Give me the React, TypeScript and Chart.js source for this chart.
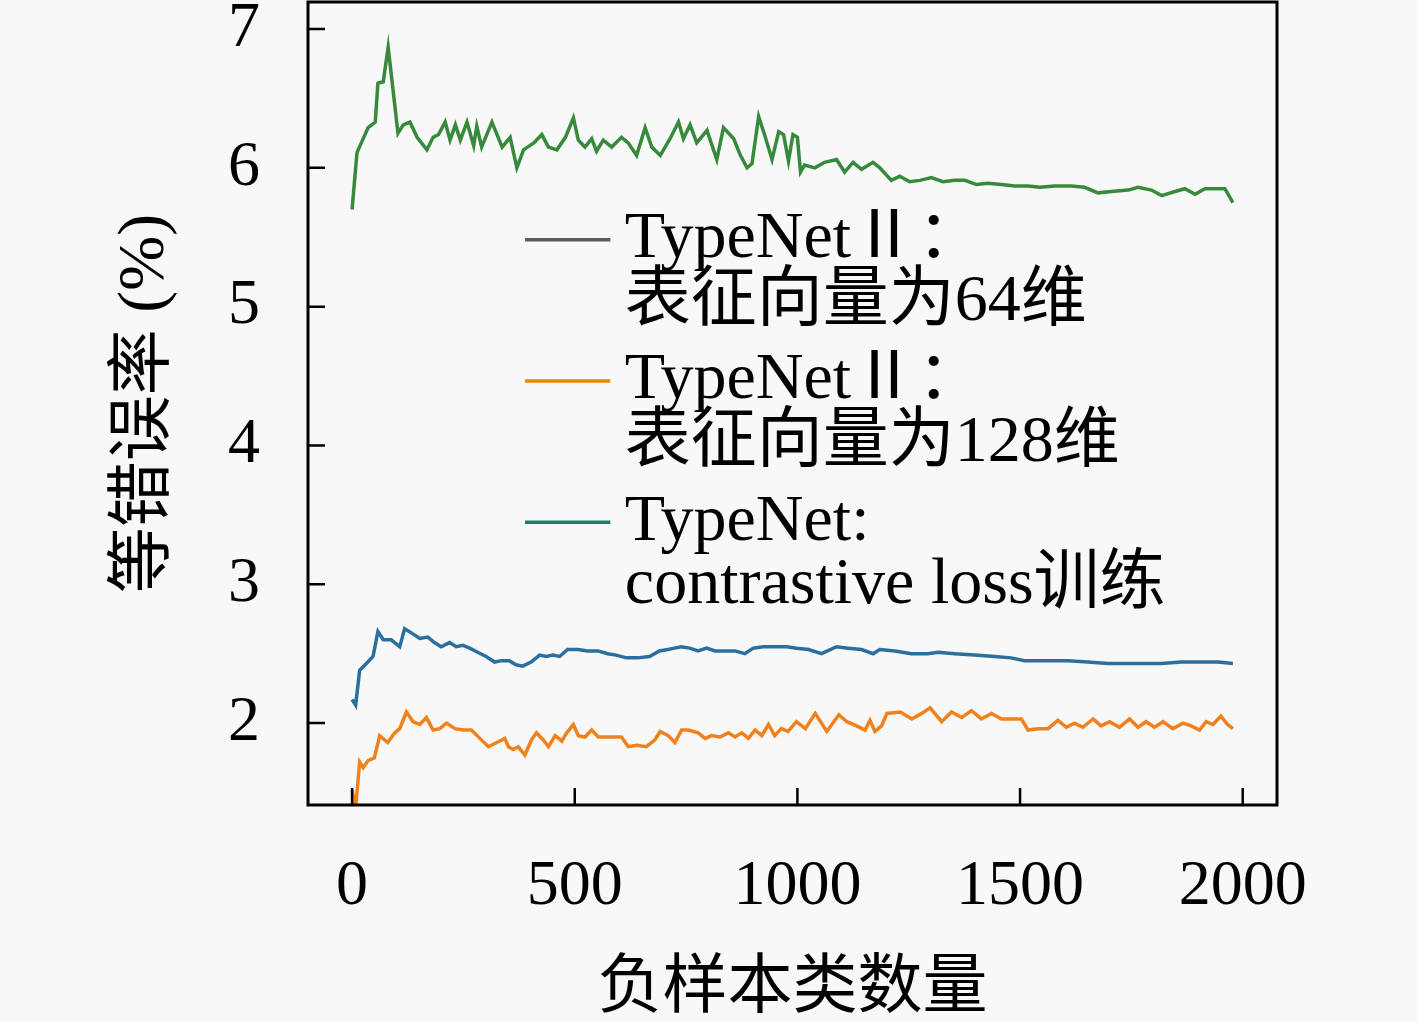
import React, { useEffect, useRef } from 'react';
import { Chart, registerables } from 'chart.js';

Chart.register(...registerables);

const W = 1417;
const H = 1022;
const FONT = "'Liberation Serif', 'Noto Sans CJK SC', serif";
const BG = '#f8f8f8';

const xTicks = [0, 500, 1000, 1500, 2000];
const yTicks = [2, 3, 4, 5, 6, 7];
const xTitle = '负样本类数量';
const yTitle = '等错误率 (%)';

const legendText = [
  ['TypeNetⅡ：', '表征向量为64维'],
  ['TypeNetⅡ：', '表征向量为128维'],
  ['TypeNet:', 'contrastive loss训练'],
];
const legendColors = ['#5c5c5c', '#e8870e', '#17806a'];

const greenX = [0, 11, 36, 52, 58, 70, 81, 92, 103, 115, 130, 146, 168, 182, 194, 209, 220, 232, 243, 258, 273, 280, 291, 314, 337, 355, 370, 385, 408, 426, 441, 460, 479, 497, 508, 523, 538, 549, 564, 583, 605, 620, 639, 658, 673, 692, 714, 733, 744, 759, 774, 797, 819, 834, 857, 872, 887, 898, 913, 928, 943, 958, 969, 980, 990, 1000, 1007, 1016, 1039, 1061, 1088, 1106, 1125, 1144, 1170, 1185, 1211, 1230, 1252, 1275, 1301, 1327, 1353, 1376, 1402, 1428, 1458, 1488, 1518, 1544, 1578, 1615, 1645, 1675, 1705, 1743, 1765, 1795, 1818, 1848, 1870, 1893, 1915, 1938, 1960, 1978];
const greenY = [5.70, 6.11, 6.29, 6.33, 6.61, 6.62, 6.87, 6.56, 6.25, 6.31, 6.33, 6.22, 6.13, 6.22, 6.24, 6.33, 6.20, 6.31, 6.20, 6.33, 6.16, 6.30, 6.15, 6.33, 6.15, 6.22, 6.00, 6.13, 6.18, 6.24, 6.15, 6.13, 6.22, 6.36, 6.20, 6.15, 6.21, 6.12, 6.20, 6.15, 6.22, 6.18, 6.09, 6.29, 6.15, 6.09, 6.21, 6.33, 6.21, 6.31, 6.18, 6.27, 6.06, 6.29, 6.21, 6.09, 6.00, 6.03, 6.37, 6.22, 6.06, 6.26, 6.24, 6.05, 6.24, 6.22, 5.97, 6.02, 6.00, 6.04, 6.06, 5.97, 6.04, 5.99, 6.04, 6.00, 5.91, 5.94, 5.90, 5.91, 5.93, 5.90, 5.91, 5.91, 5.88, 5.89, 5.88, 5.87, 5.87, 5.86, 5.87, 5.87, 5.86, 5.82, 5.83, 5.84, 5.86, 5.84, 5.80, 5.83, 5.85, 5.81, 5.85, 5.85, 5.85, 5.75];

const blueX = [0, 8, 17, 32, 47, 58, 70, 88, 107, 118, 133, 152, 170, 185, 200, 219, 234, 249, 264, 282, 301, 320, 335, 353, 368, 383, 402, 421, 436, 451, 466, 484, 507, 529, 552, 574, 593, 616, 642, 668, 690, 709, 724, 739, 758, 777, 796, 815, 837, 860, 882, 901, 923, 949, 976, 998, 1025, 1054, 1088, 1114, 1144, 1170, 1185, 1219, 1256, 1293, 1316, 1353, 1398, 1443, 1480, 1510, 1555, 1608, 1652, 1697, 1727, 1772, 1817, 1862, 1907, 1945, 1978];
const blueY = [2.17, 2.13, 2.38, 2.43, 2.48, 2.66, 2.60, 2.60, 2.55, 2.68, 2.65, 2.61, 2.62, 2.58, 2.55, 2.58, 2.55, 2.56, 2.54, 2.51, 2.48, 2.44, 2.45, 2.45, 2.42, 2.41, 2.44, 2.49, 2.48, 2.49, 2.48, 2.53, 2.53, 2.52, 2.52, 2.50, 2.49, 2.47, 2.47, 2.48, 2.52, 2.53, 2.54, 2.55, 2.54, 2.52, 2.54, 2.52, 2.52, 2.52, 2.50, 2.54, 2.55, 2.55, 2.55, 2.54, 2.53, 2.50, 2.55, 2.54, 2.53, 2.50, 2.53, 2.52, 2.50, 2.50, 2.51, 2.50, 2.49, 2.48, 2.47, 2.45, 2.45, 2.45, 2.44, 2.43, 2.43, 2.43, 2.43, 2.44, 2.44, 2.44, 2.43];

const orangeX = [0, 8, 17, 25, 36, 50, 62, 80, 96, 107, 122, 137, 152, 167, 182, 197, 212, 231, 249, 268, 287, 306, 325, 343, 351, 362, 373, 388, 403, 414, 429, 441, 456, 471, 482, 497, 508, 523, 538, 553, 576, 605, 620, 639, 661, 680, 692, 710, 725, 740, 755, 777, 793, 807, 826, 845, 860, 875, 890, 905, 920, 935, 949, 964, 979, 998, 1018, 1040, 1066, 1093, 1111, 1133, 1152, 1163, 1174, 1189, 1201, 1231, 1257, 1279, 1298, 1324, 1346, 1369, 1391, 1413, 1436, 1458, 1480, 1503, 1518, 1540, 1563, 1585, 1604, 1622, 1641, 1664, 1682, 1701, 1723, 1746, 1765, 1783, 1802, 1821, 1843, 1866, 1884, 1903, 1918, 1933, 1951, 1966, 1978];
const orangeY = [1.52, 1.39, 1.72, 1.68, 1.73, 1.75, 1.91, 1.86, 1.93, 1.96, 2.08, 2.01, 1.99, 2.04, 1.95, 1.96, 2.00, 1.96, 1.95, 1.95, 1.89, 1.83, 1.86, 1.89, 1.83, 1.81, 1.83, 1.77, 1.88, 1.93, 1.88, 1.83, 1.91, 1.87, 1.93, 1.99, 1.91, 1.90, 1.95, 1.90, 1.90, 1.90, 1.83, 1.84, 1.83, 1.88, 1.94, 1.91, 1.86, 1.95, 1.95, 1.93, 1.89, 1.91, 1.90, 1.93, 1.90, 1.93, 1.89, 1.95, 1.91, 1.99, 1.91, 1.96, 1.94, 2.01, 1.96, 2.07, 1.94, 2.06, 2.01, 1.98, 1.95, 2.02, 1.94, 1.98, 2.07, 2.08, 2.03, 2.07, 2.11, 2.01, 2.08, 2.04, 2.09, 2.03, 2.07, 2.03, 2.03, 2.03, 1.95, 1.96, 1.96, 2.02, 1.97, 2.00, 1.97, 2.03, 1.98, 2.01, 1.97, 2.03, 1.97, 2.01, 1.97, 2.01, 1.96, 2.00, 1.98, 1.95, 2.01, 1.99, 2.05, 1.99, 1.96];

const toPoints = (xs: number[], ys: number[]) => xs.map((x, i) => ({ x, y: ys[i] }));

const bgPlugin = {
  id: 'bg',
  beforeDraw(chart: any) {
    const ctx = chart.ctx;
    ctx.save();
    ctx.fillStyle = BG;
    ctx.fillRect(0, 0, chart.width, chart.height);
    ctx.restore();
  },
};

const framePlugin = {
  id: 'frame',
  afterDatasetsDraw(chart: any) {
    const { ctx, chartArea: a, scales } = chart;
    ctx.save();
    ctx.strokeStyle = '#000';
    ctx.lineWidth = 3;
    ctx.strokeRect(a.left, a.top, a.right - a.left, a.bottom - a.top);
    ctx.lineWidth = 2.5;
    const tl = 17;
    ctx.beginPath();
    scales.x.ticks.forEach((t: any) => {
      const px = scales.x.getPixelForValue(t.value);
      ctx.moveTo(px, a.bottom);
      ctx.lineTo(px, a.bottom - tl);
    });
    scales.y.ticks.forEach((t: any) => {
      const py = scales.y.getPixelForValue(t.value);
      ctx.moveTo(a.left, py);
      ctx.lineTo(a.left + tl, py);
    });
    ctx.stroke();
    ctx.restore();
  },
};

const legendPlugin = {
  id: 'customLegend',
  afterDraw(chart: any) {
    const { ctx, chartArea: a } = chart;
    const w = a.right - a.left;
    const h = a.bottom - a.top;
    const x0 = a.left + w * 0.224;
    const x1 = a.left + w * 0.312;
    const tx = a.left + w * 0.327;
    const y0 = a.top + h * 0.296;
    const entryGap = h * 0.176;
    const lineGap = 63;
    ctx.save();
    ctx.font = `66px ${FONT}`;
    ctx.textBaseline = 'middle';
    ctx.textAlign = 'left';
    legendText.forEach((lines, i) => {
      const y = y0 + i * entryGap;
      ctx.strokeStyle = legendColors[i];
      ctx.lineWidth = 3.5;
      ctx.beginPath();
      ctx.moveTo(x0, y);
      ctx.lineTo(x1, y);
      ctx.stroke();
      ctx.fillStyle = '#000';
      lines.forEach((s, j) => ctx.fillText(s, tx, y + j * lineGap));
    });
    ctx.restore();
  },
};

export default function App() {
  const ref = useRef<HTMLCanvasElement | null>(null);
  useEffect(() => {
    document.body.style.margin = '0';
    document.body.style.background = BG;
    const canvas = ref.current!;
    const chart = new Chart(canvas, {
      type: 'line',
      data: {
        datasets: [
          { label: 'contrastive', data: toPoints(greenX, greenY), borderColor: '#378a3c', borderWidth: 3.5, pointRadius: 0, tension: 0, fill: false },
          { label: '64', data: toPoints(blueX, blueY), borderColor: '#2b6f9f', borderWidth: 3.5, pointRadius: 0, tension: 0, fill: false },
          { label: '128', data: toPoints(orangeX, orangeY), borderColor: '#f0821e', borderWidth: 3.5, pointRadius: 0, tension: 0, fill: false },
        ],
      },
      options: {
        animation: false,
        responsive: false,
        devicePixelRatio: 1,
        layout: { padding: { left: 0, right: 140, top: 2, bottom: 0 } },
        plugins: { legend: { display: false }, tooltip: { enabled: false } },
        scales: {
          x: {
            type: 'linear',
            min: -99,
            max: 2077,
            afterBuildTicks: (s: any) => { s.ticks = xTicks.map((v) => ({ value: v })); },
            afterFit: (s: any) => { s.height = 217; s.paddingLeft = 0; s.paddingRight = 0; },
            grid: { display: false, drawTicks: false },
            border: { display: false },
            ticks: { font: { family: FONT, size: 64 }, color: '#000', padding: 44, maxRotation: 0, autoSkip: false, callback: (v: any) => String(v) },
            title: { display: true, text: xTitle, font: { family: FONT, size: 65, lineHeight: 1 }, color: '#000', padding: { top: 0, bottom: 0 } },
          },
          y: {
            type: 'linear',
            min: 1.41,
            max: 7.195,
            afterBuildTicks: (s: any) => { s.ticks = yTicks.map((v) => ({ value: v })); },
            afterFit: (s: any) => { s.width = 308; s.paddingTop = 0; s.paddingBottom = 0; },
            grid: { display: false, drawTicks: false },
            border: { display: false },
            ticks: { font: { family: FONT, size: 64 }, color: '#000', padding: 48, autoSkip: false, callback: (v: any) => String(v) },
            title: { display: true, text: yTitle, font: { family: FONT, size: 66, lineHeight: 1.2 }, color: '#000', padding: { top: 106, bottom: 0 } },
          },
        },
      },
      plugins: [bgPlugin, framePlugin, legendPlugin],
    });
    return () => chart.destroy();
  }, []);
  return (
    <div style={{ width: W, height: H }}>
      <canvas ref={ref} width={W} height={H} style={{ display: 'block', width: W, height: H }} />
    </div>
  );
}
